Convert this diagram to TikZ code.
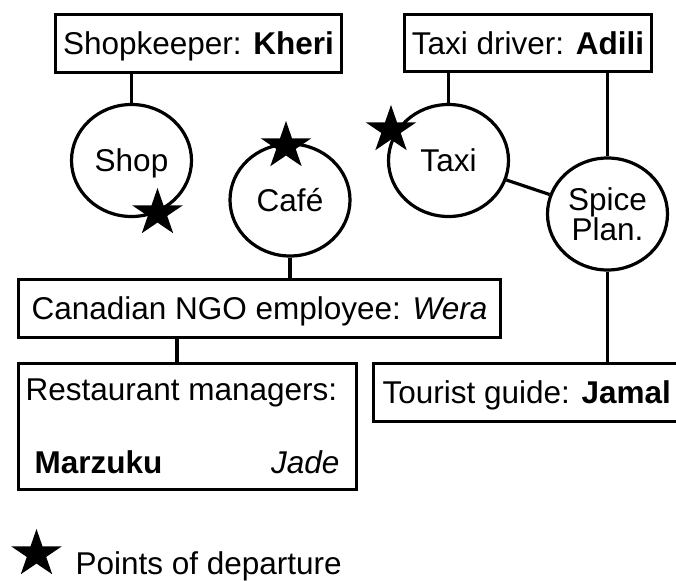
\documentclass[tikz,border=0pt]{standalone}
\usepackage{fontspec}
\setmainfont{Liberation Sans}
\usetikzlibrary{shapes.geometric}
\newcommand\depstar[1]{\fill #1 +(-90:26.7 and 25) -- +(-54:10.2 and 9.55) -- +(-18:26.7 and 25) -- +(18:10.2 and 9.55) -- +(54:26.7 and 25) -- +(90:10.2 and 9.55) -- +(126:26.7 and 25) -- +(162:10.2 and 9.55) -- +(198:26.7 and 25) -- +(234:10.2 and 9.55) -- cycle;}
\begin{document}
\begin{tikzpicture}[x=1pt,y=-1pt,line width=3.2pt,
  every node/.style={font=\fontsize{31.5}{30}\selectfont, inner sep=0pt},
  capc/.style={text height=22.6pt, text depth=0pt},
  box/.style={draw, rectangle, capc},
  circ/.style={draw, ellipse, minimum width=120pt, minimum height=112pt}]
\useasboundingbox (0,0) rectangle (676,580);
% boxes
\node[box, minimum width=286pt, minimum height=58pt] (shopk) at (198.5,43.5) {Shopkeeper: \textbf{Kheri}};
\node[box, minimum width=247pt, minimum height=57pt] (taxib) at (528,43) {Taxi driver: \textbf{Adili}};
\node[box, minimum width=482pt, minimum height=58pt] (ngo) at (259.5,308.5) {Canadian NGO employee: \textit{Wera}};
\node[draw, minimum width=338pt, minimum height=126pt] (rest) at (187.5,426.5) {};
\node[anchor=base west] (restt) at (24,400) {Restaurant managers:};
\node[anchor=base west] (marz) at (33,473) {\textbf{Marzuku}};
\node[anchor=base east] (jade) at (341,473) {\textit{Jade}};
\node[box, minimum width=306.5pt, minimum height=58pt] (tour) at (526.75,392.5) {Tourist guide: \textbf{Jamal}};
% places
\node[circ, capc] (shop) at (131.5,160.5) {Shop};
\node[circ, capc] (cafe) at (290,200) {Café};
\node[circ, capc] (taxi) at (448.5,160.5) {Taxi};
\node[circ, align=center] (spice) at (607.5,214) {Spice\\Plan.};
% connectors
\draw (shop.north |- shopk.south) -- (shop.north);
\draw (taxi.north |- taxib.south) -- (taxi.north);
\draw (spice.north |- taxib.south) -- (spice.north);
\draw (taxi) -- (spice);
\draw (cafe.south) -- (cafe.south |- ngo.north);
\coordinate (nr) at (177,0);
\draw (nr |- ngo.south) -- (nr |- rest.north);
\draw (spice.south) -- (spice.south |- tour.north);
% stars
\depstar{(157.5,213)}
\depstar{(286,146)}
\depstar{(391,130)}
\depstar{(36.5,554)}
\node[anchor=base west] (legend) at (74,574) {Points of departure};
\end{tikzpicture}
\end{document}
